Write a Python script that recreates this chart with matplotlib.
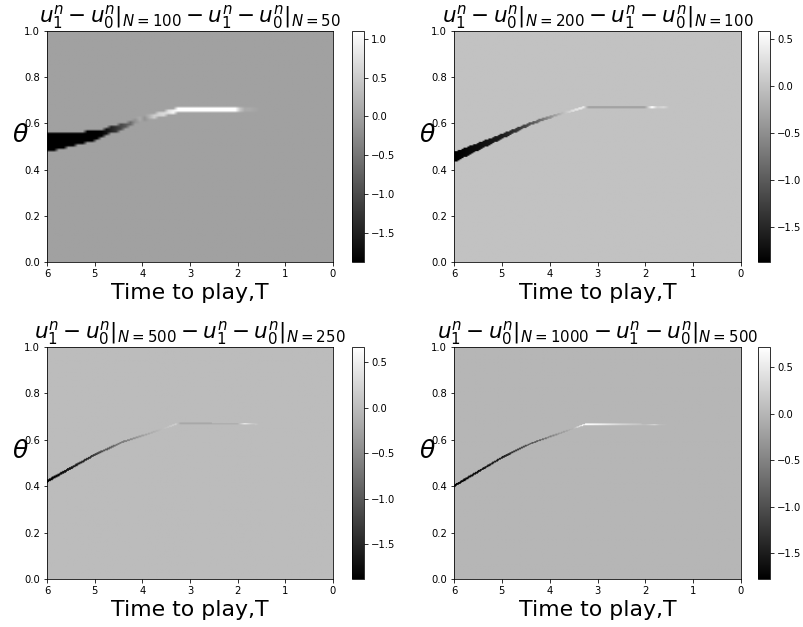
import numpy as np
import matplotlib
matplotlib.use('Agg')
import matplotlib.pyplot as plt

# boundary curve theta(T)
curve_T = [6.0, 5.0, 4.4, 3.9, 3.25, 1.5]
theta_tl = [0.517, 0.548, 0.592, 0.630, 0.658, 0.658]
theta_tr = [0.455, 0.545, 0.600, 0.635, 0.672, 0.670]
theta_bl = [0.420, 0.534, 0.590, 0.622, 0.668, 0.666]
theta_br = [0.400, 0.522, 0.582, 0.618, 0.665, 0.663]

# band thickness along the curve
width_T = [6.0, 5.0, 4.3, 3.5, 1.5]
width_tl = [0.080, 0.040, 0.022, 0.020, 0.020]
width_tr = [0.045, 0.022, 0.013, 0.010, 0.008]
width_bl = [0.013, 0.010, 0.008, 0.007, 0.007]
width_br = [0.011, 0.009, 0.007, 0.006, 0.006]

# difference value along the curve
val_T_tl = [6.0, 4.9, 4.6, 4.4, 4.25, 4.1, 3.95, 3.8, 3.5, 3.3, 2.0, 1.9, 1.7, 1.5]
val_tl = [-1.88, -1.88, -1.3, -0.9, -0.6, 0.2, -0.2, 0.5, 0.7, 1.1, 1.1, 0.1, 0.1, 0.0]
val_T_tr = [6.0, 5.0, 4.5, 4.0, 3.5, 3.3, 3.2, 2.0, 1.85, 1.75, 1.6, 1.5]
val_tr = [-1.87, -1.6, -1.2, -0.5, 0.3, 0.4, -0.3, -0.3, 0.58, 0.1, 0.2, 0.0]
val_T_bl = [6.0, 5.2, 4.5, 4.0, 3.3, 3.2, 2.0, 1.85, 1.7, 1.55]
val_bl = [-1.88, -1.5, -0.7, -0.3, 0.2, -0.2, -0.2, 0.67, 0.2, 0.0]
val_T_br = [6.0, 5.0, 4.2, 3.5, 3.3, 3.0, 2.5, 2.0, 1.8, 1.7, 1.5]
val_br = [-1.78, -1.5, -0.8, 0.0, 0.72, 0.6, 0.3, 0.1, 0.4, 0.1, 0.0]

# colour limits
vmins = [-1.88, -1.87, -1.88, -1.78]
vmaxs = [1.10, 0.585, 0.67, 0.72]
grids = [(60, 100), (150, 200), (300, 250), (300, 250)]
titles = [r'$u_1^n - u_0^n|_{N=100} - u_1^n - u_0^n|_{N=50}$',
          r'$u_1^n - u_0^n|_{N=200} - u_1^n - u_0^n|_{N=100}$',
          r'$u_1^n - u_0^n|_{N=500} - u_1^n - u_0^n|_{N=250}$',
          r'$u_1^n - u_0^n|_{N=1000} - u_1^n - u_0^n|_{N=500}$']

thetas = [theta_tl, theta_tr, theta_bl, theta_br]
widths = [width_tl, width_tr, width_bl, width_br]
val_Ts = [val_T_tl, val_T_tr, val_T_bl, val_T_br]
vals = [val_tl, val_tr, val_bl, val_br]

# pixel boxes (x0, y0, x1, y1) from top-left of the 803x627 figure
W, H = 803, 627
DPI = 72
boxes = [(47, 31, 333, 262), (454, 31, 741, 262),
         (47, 347, 333, 579), (454, 347, 741, 579)]
cboxes = [(352, 31, 364, 262), (758, 31, 770, 262),
          (352, 347, 364, 579), (758, 347, 770, 579)]


def frac(b):
    x0, y0, x1, y1 = b
    return [x0 / W, 1 - y1 / H, (x1 - x0) / W, (y1 - y0) / H]


def make_field(nt, nth, theta, width, vT, v):
    T = np.linspace(6, 0, nt)
    th = np.linspace(1, 0, nth)
    c = np.interp(T, curve_T[::-1], theta[::-1])
    w = np.interp(T, width_T[::-1], width[::-1])
    amp = np.interp(T, vT[::-1], v[::-1])
    amp[T < 1.5] = 0.0
    TT, TH = np.meshgrid(T, th)
    inside = np.abs(TH - c[None, :]) < w[None, :] / 2
    return np.where(inside, amp[None, :], 0.0)


fig = plt.figure(figsize=(W / DPI, H / DPI), dpi=DPI)
for i in range(4):
    ax = fig.add_axes(frac(boxes[i]))
    cax = fig.add_axes(frac(cboxes[i]))
    z = make_field(grids[i][0], grids[i][1], thetas[i], widths[i], val_Ts[i], vals[i])
    im = ax.imshow(z, extent=[6, 0, 0, 1], aspect='auto', cmap='gray',
                   vmin=vmins[i], vmax=vmaxs[i], interpolation='bilinear')
    ax.set_xticks([6, 5, 4, 3, 2, 1, 0])
    ax.set_yticks([0.0, 0.2, 0.4, 0.6, 0.8, 1.0])
    ax.set_title(titles[i], fontsize=21.5, pad=2)
    ax.set_xlabel('Time to play,T', fontsize=22)
    ax.set_ylabel(r'$\theta$', fontsize=25, rotation=0)
    fig.colorbar(im, cax=cax)

fig.savefig('out.png', dpi=DPI)
